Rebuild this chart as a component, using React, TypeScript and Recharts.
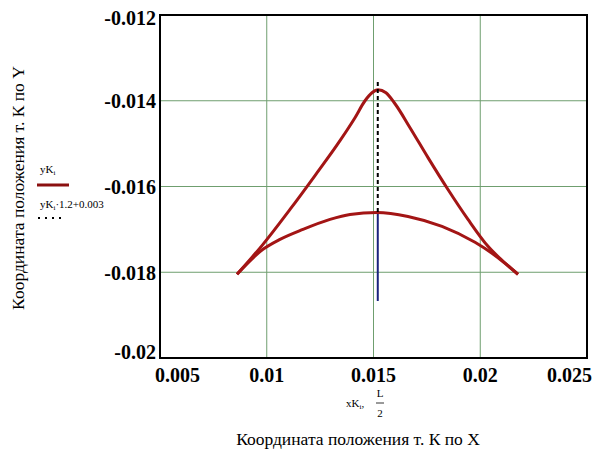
import React from 'react';
import { ComposedChart, Line, XAxis, YAxis, CartesianGrid, ReferenceArea } from 'recharts';

const xTicks = [0.005, 0.01, 0.015, 0.02, 0.025];
const yTicks = [-0.02, -0.018, -0.016, -0.014, -0.012];

const upperX = [0.008607, 0.009824, 0.011089, 0.01226, 0.013431, 0.014133, 0.014602, 0.01493, 0.015211, 0.015585, 0.016007, 0.01671, 0.017553, 0.018489, 0.019426, 0.020363, 0.021066, 0.021768];
const upperY = [-0.018047, -0.017349, -0.016535, -0.015744, -0.01493, -0.014395, -0.014, -0.013814, -0.013744, -0.013814, -0.01407, -0.014628, -0.015326, -0.01607, -0.016767, -0.017395, -0.017744, -0.018047];

const lowerX = [0.008607, 0.009824, 0.010621, 0.011698, 0.012963, 0.013899, 0.015164, 0.016616, 0.018208, 0.019754, 0.02055, 0.021159, 0.021768];
const lowerY = [-0.018047, -0.017465, -0.017233, -0.017, -0.016767, -0.016651, -0.016605, -0.016698, -0.01693, -0.017302, -0.017558, -0.017791, -0.018047];

const halfL = 0.0152;
const dashedY = [-0.01356, -0.0166];
const blueY = [-0.0166, -0.01867];

const upper = upperX.map((x, i) => ({ x, y: upperY[i] }));
const lower = lowerX.map((x, i) => ({ x, y: lowerY[i] }));
const dashed = dashedY.map((y) => ({ x: halfL, y }));
const blue = blueY.map((y) => ({ x: halfL, y }));

const W = 599;
const H = 459;
const serif = '"Liberation Serif", "Times New Roman", serif';

const XTick = (props: any) => {
  const { x, y, payload, index } = props;
  const last = index === xTicks.length - 1;
  const first = index === 0;
  const anchor = first ? 'start' : last ? 'end' : 'middle';
  const tx = first ? x - 5 : last ? x + 11 : x;
  return (
    <text x={tx} y={y} dy={24} textAnchor={anchor} fontFamily={serif} fontWeight="bold" fontSize={20} fill="#000">
      {String(payload.value)}
    </text>
  );
};

const YTick = (props: any) => {
  const { x, y, payload, index } = props;
  const first = index === 0;
  const last = index === yTicks.length - 1;
  const dy = first ? 0.5 : last ? 10 : 7.5;
  return (
    <text x={x - 4} y={y} dy={dy} textAnchor="end" fontFamily={serif} fontWeight="bold" fontSize={20} fill="#000">
      {String(payload.value)}
    </text>
  );
};

export default function App() {
  return (
    <div style={{ position: 'absolute', left: 0, top: 0, width: W, height: H, background: '#fff', fontFamily: serif }}>
      <ComposedChart width={W} height={H} margin={{ top: 15, right: 12, bottom: 71, left: 70 }}>
        <CartesianGrid stroke="#6f9e6f" strokeWidth={1} />
        <XAxis
          type="number"
          dataKey="x"
          domain={[0.005, 0.025]}
          ticks={xTicks}
          tick={<XTick />}
          tickLine={false}
          axisLine={false}
          tickSize={0}
          tickMargin={0}
          height={30}
          allowDataOverflow
        />
        <YAxis
          type="number"
          dataKey="y"
          domain={[-0.02, -0.012]}
          ticks={yTicks}
          tick={<YTick />}
          tickLine={false}
          axisLine={false}
          tickSize={0}
          tickMargin={0}
          width={90}
          allowDataOverflow
        />
        <ReferenceArea x1={0.005} x2={0.025} y1={-0.02} y2={-0.012} fill="none" stroke="#000" strokeWidth={2} />
        <Line data={blue} dataKey="y" type="linear" stroke="#1a237e" strokeWidth={2} dot={false} isAnimationActive={false} />
        <Line data={lower} dataKey="y" type="monotone" stroke="#a31515" strokeWidth={3} dot={false} isAnimationActive={false} />
        <Line data={upper} dataKey="y" type="monotone" stroke="#a31515" strokeWidth={3} dot={false} isAnimationActive={false} />
        <Line data={dashed} dataKey="y" type="linear" stroke="#000" strokeWidth={2} strokeDasharray="4 3" dot={false} isAnimationActive={false} />
      </ComposedChart>
      <svg width={W} height={H} style={{ position: 'absolute', left: 0, top: 0, pointerEvents: 'none' }}>
        <text
          x={20}
          y={188}
          transform="rotate(-90 20 188)"
          textAnchor="middle"
          dominantBaseline="middle"
          fontFamily={serif}
          fontSize={17.5}
          fill="#000"
        >
          Координата положения т. К по Y
        </text>
        <text x={40} y={173} fontFamily={serif} fontSize={11} fill="#000">
          yK<tspan fontSize={7} dy={2}>i</tspan>
        </text>
        <line x1={37} y1={185} x2={69} y2={185} stroke="#8b1010" strokeWidth={3} />
        <text x={40} y={208} fontFamily={serif} fontSize={11} fill="#000">
          yK<tspan fontSize={7} dy={2}>i</tspan>
          <tspan dy={-2}>·1.2+0.003</tspan>
        </text>
        <line x1={38} y1={218} x2={66} y2={218} stroke="#000" strokeWidth={2} strokeDasharray="2 5" />
        <text x={346} y={407} fontFamily={serif} fontSize={11} fill="#000">
          xK<tspan fontSize={7} dy={2}>i</tspan>
          <tspan dy={-2}>,</tspan>
        </text>
        <text x={380} y={397} textAnchor="middle" fontFamily={serif} fontSize={11} fill="#000">L</text>
        <line x1={376} y1={403} x2={384} y2={403} stroke="#000" strokeWidth={0.8} />
        <text x={380} y={417} textAnchor="middle" fontFamily={serif} fontSize={11} fill="#000">2</text>
        <text x={358} y={445} textAnchor="middle" fontFamily={serif} fontSize={17.5} fill="#000">
          Координата положения т. К по X
        </text>
      </svg>
    </div>
  );
}
